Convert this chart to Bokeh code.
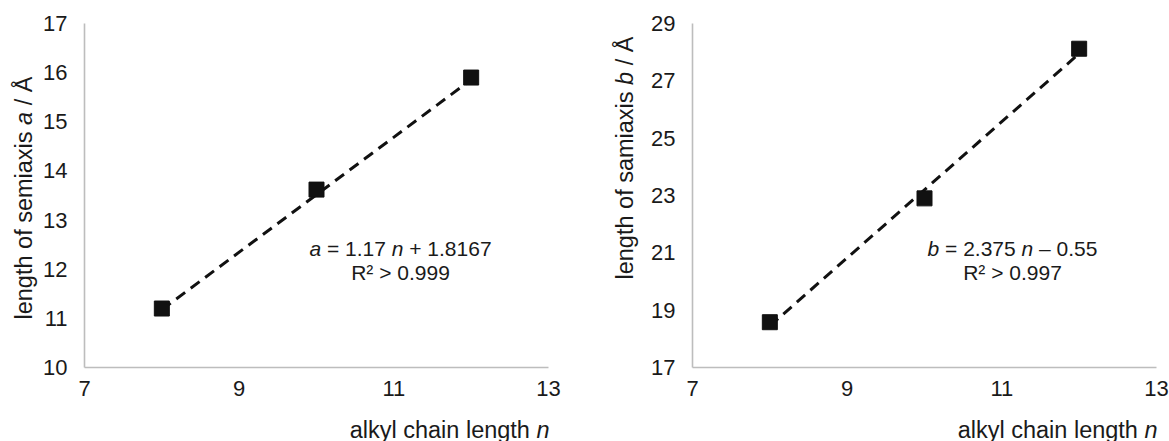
import math
from bokeh.plotting import figure
from bokeh.models import Range1d, FixedTicker, Label, LinearAxis
from bokeh.layouts import row
from bokeh.embed import file_html
from bokeh.resources import INLINE

# ---------------- data ----------------
n_values = [8, 10, 12]
a_values = [11.2, 13.62, 15.9]
b_values = [18.58, 22.9, 28.12]
a_slope, a_intercept = 1.17, 1.8167
b_slope, b_intercept = 2.375, -0.55
x_ticks = [7, 9, 11, 13]
a_ticks = [10, 11, 12, 13, 14, 15, 16, 17]
b_ticks = [17, 19, 21, 23, 25, 27, 29]

FONT = "Liberation Sans"
TXT = "#1a1a1a"
INK = "#111111"
H = 441
FRAME_TOP, FRAME_BOTTOM, FRAME_W = 23, 367, 464

# Arial / Liberation Sans advance widths (1/1000 em)
ADV = {' ': 278, 'a': 556, 'b': 556, 'c': 500, 'e': 556, 'f': 278, 'g': 556,
       'h': 556, 'i': 222, 'k': 500, 'l': 222, 'm': 833, 'n': 556, 'o': 556,
       's': 500, 't': 278, 'x': 500, 'y': 500, '/': 278, 'Å': 667, '=': 584,
       '+': 584, '.': 278, '–': 556, 'R': 722, '²': 333, '>': 584}
for d in "0123456789":
    ADV[d] = 556


def tw(s, size):
    return sum(ADV.get(c, 556) for c in s) * size / 1000.0


def rich(p, pieces, x0, y0, dx, dy, size, align="left", vertical=False):
    total = tw("".join(t for t, _ in pieces), size)
    start = {"center": -total / 2, "right": -total}.get(align, 0.0)
    pos = start
    for text, ital in pieces:
        lead = len(text) - len(text.lstrip(" "))
        body = text.strip(" ")
        off = pos + tw(text[:lead], size)
        if body:
            if vertical:
                lab = Label(x=x0, y=y0, x_offset=dx, y_offset=dy + off, text=body,
                            angle=math.pi / 2, text_align="left",
                            text_baseline="alphabetic")
            else:
                lab = Label(x=x0, y=y0, x_offset=dx + off, y_offset=dy, text=body,
                            text_align="left", text_baseline="alphabetic")
            lab.text_font = FONT
            lab.text_font_size = f"{size}px"
            lab.text_color = TXT
            lab.text_font_style = "italic" if ital else "normal"
            p.add_layout(lab)
        pos += tw(text, size)


def make(yvals, slope, intercept, yticks, width, frame_left,
         ytitle, eq_pieces, r2_text, eq_cx, ytitle_x, ytitle_start):
    # ranges chosen so that the frame fills the whole canvas and the
    # data box sits at the measured pixel position
    xs = (x_ticks[-1] - x_ticks[0]) / FRAME_W
    ys = (yticks[-1] - yticks[0]) / (FRAME_BOTTOM - FRAME_TOP)
    xr = Range1d(x_ticks[0] - frame_left * xs, x_ticks[0] + (width - frame_left) * xs)
    yr = Range1d(yticks[0] - (H - FRAME_BOTTOM) * ys, yticks[-1] + FRAME_TOP * ys)
    p = figure(width=width, height=H, x_range=xr, y_range=yr,
               output_backend="svg", toolbar_location=None,
               x_axis_location=None, y_axis_location=None,
               min_border=0, min_border_left=0, min_border_right=0,
               min_border_top=0, min_border_bottom=0)
    p.xgrid.visible = False
    p.ygrid.visible = False
    p.outline_line_color = None
    p.background_fill_color = "white"
    p.border_fill_color = "white"

    xa = LinearAxis(fixed_location=yticks[0], bounds=(x_ticks[0], x_ticks[-1]),
                    ticker=FixedTicker(ticks=x_ticks))
    ya = LinearAxis(fixed_location=x_ticks[0], bounds=(yticks[0], yticks[-1]),
                    ticker=FixedTicker(ticks=yticks))
    for ax in (xa, ya):
        ax.axis_line_color = "#bdbdbd"
        ax.axis_line_width = 1.6
        ax.major_tick_line_color = None
        ax.minor_tick_line_color = None
        ax.major_tick_out = 0
        ax.major_tick_in = 0
        ax.major_label_text_font = FONT
        ax.major_label_text_font_size = "22px"
        ax.major_label_text_color = TXT
    xa.major_label_standoff = 13
    ya.major_label_standoff = 17
    p.add_layout(xa, "below")
    p.add_layout(ya, "left")

    xf = [min(n_values), max(n_values)]
    yf = [slope * v + intercept for v in xf]
    p.line(xf, yf, line_color=INK, line_width=3, line_dash="11 7")
    p.scatter(n_values, yvals, marker="square", size=15,
              fill_color=INK, line_color=INK)

    x0, y0 = x_ticks[0], yticks[0]
    rich(p, eq_pieces, x0, y0, eq_cx - frame_left, FRAME_BOTTOM - 248, 21, align="center")
    rich(p, [(r2_text, False)], x0, y0, eq_cx - frame_left, FRAME_BOTTOM - 272, 21,
         align="center")
    rich(p, [("alkyl chain length ", False), ("n", True)], x_ticks[-1], y0,
         1, FRAME_BOTTOM - 429, 23.5, align="right")
    rich(p, ytitle, x0, y0, ytitle_x - frame_left, FRAME_BOTTOM - ytitle_start, 23.5,
         vertical=True)
    return p


p1 = make(a_values, a_slope, a_intercept, a_ticks, 584, 84,
          [("length of semiaxis ", False), ("a", True), (" / Å", False)],
          [("a", True), (" = 1.17 ", False), ("n", True), (" + 1.8167", False)],
          "R² > 0.999", 400, 23, 319)
p2 = make(b_values, b_slope, b_intercept, b_ticks, 585, 108,
          [("length of samiaxis ", False), ("b", True), (" / Å", False)],
          [("b", True), (" = 2.375 ", False), ("n", True), (" – 0.55", False)],
          "R² > 0.997", 1012 - 584, 624 - 584, 279)

layout = row(p1, p2)
open("out.html", "w").write(file_html(layout, INLINE))
